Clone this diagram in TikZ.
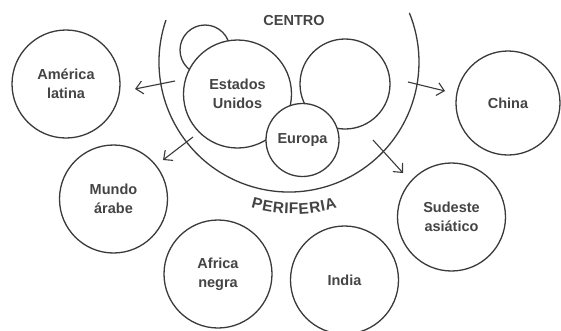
\documentclass[tikz,border=0pt]{standalone}
\usepackage{fontspec}
\setmainfont{Liberation Sans}
\usetikzlibrary{arrows.meta,decorations.text}
\definecolor{ink}{HTML}{3A3A3A}
\definecolor{txt}{HTML}{444444}
\newcommand{\lblfont}{\bfseries\fontsize{14.5}{19}\selectfont}
\begin{document}
\begin{tikzpicture}[x=1pt,y=-1pt,
  region/.style={circle, draw=ink, line width=1.3pt, fill=white, inner sep=0pt,
    align=center, text=txt, font=\lblfont},
  flow/.style={draw=ink, line width=1.1pt, -{Straight Barb[length=7pt,width=13pt,line width=1.1pt]}}]
\useasboundingbox (0,0) rectangle (561,330);
% centre zone
\coordinate (cc) at (289,62);
\draw[ink, line width=1.3pt] (cc) ++(198.8:130) arc[start angle=198.8, end angle=-22.2, radius=130];
\node[text=txt, font=\bfseries\fontsize{14.5}{17}\selectfont] (centro) at (294,21) {CENTRO};
\node[region, minimum size=50pt] (small) at (205,50) {};
\node[region, minimum size=108pt] (eu) at (237.5,94) {Estados\\Unidos};
\node[region, minimum size=90pt] (other) at (345,84) {};
\node[region, minimum size=73pt] (europa) at (302.5,140) {Europa};
% periphery label
\path[decorate, decoration={text effects along path, text={PERIFERIA},
   text effects/.cd, text along path, fit text to path,
   characters={text=txt, font=\bfseries\fontsize{15.5}{18}\selectfont, inner sep=0pt}}]
  (294,62) ++(106.5:152) arc[start angle=106.5, end angle=73.5, radius=152];
% periphery regions
\node[region, minimum size=108pt] (al) at (66,84) {América\\latina};
\node[region, minimum size=104pt] (china) at (508,103) {China};
\node[region, minimum size=108pt] (ma) at (113.5,199) {Mundo\\árabe};
\node[region, minimum size=108pt] (af) at (218,274) {Africa\\negra};
\node[region, minimum size=108pt] (india) at (344.5,280) {India};
\node[region, minimum size=108pt] (sa) at (451.5,217) {Sudeste\\asiático};
% flows
\coordinate (alT) at (175,81);  \coordinate (alH) at (135,89);
\coordinate (maT) at (193,137); \coordinate (maH) at (163,160);
\coordinate (chT) at (408,82);  \coordinate (chH) at (445,91);
\coordinate (saT) at (373,140); \coordinate (saH) at (403,173);
\draw[flow] (alT) -- (alH);
\draw[flow] (maT) -- (maH);
\draw[flow] (chT) -- (chH);
\draw[flow] (saT) -- (saH);
\end{tikzpicture}
\end{document}
